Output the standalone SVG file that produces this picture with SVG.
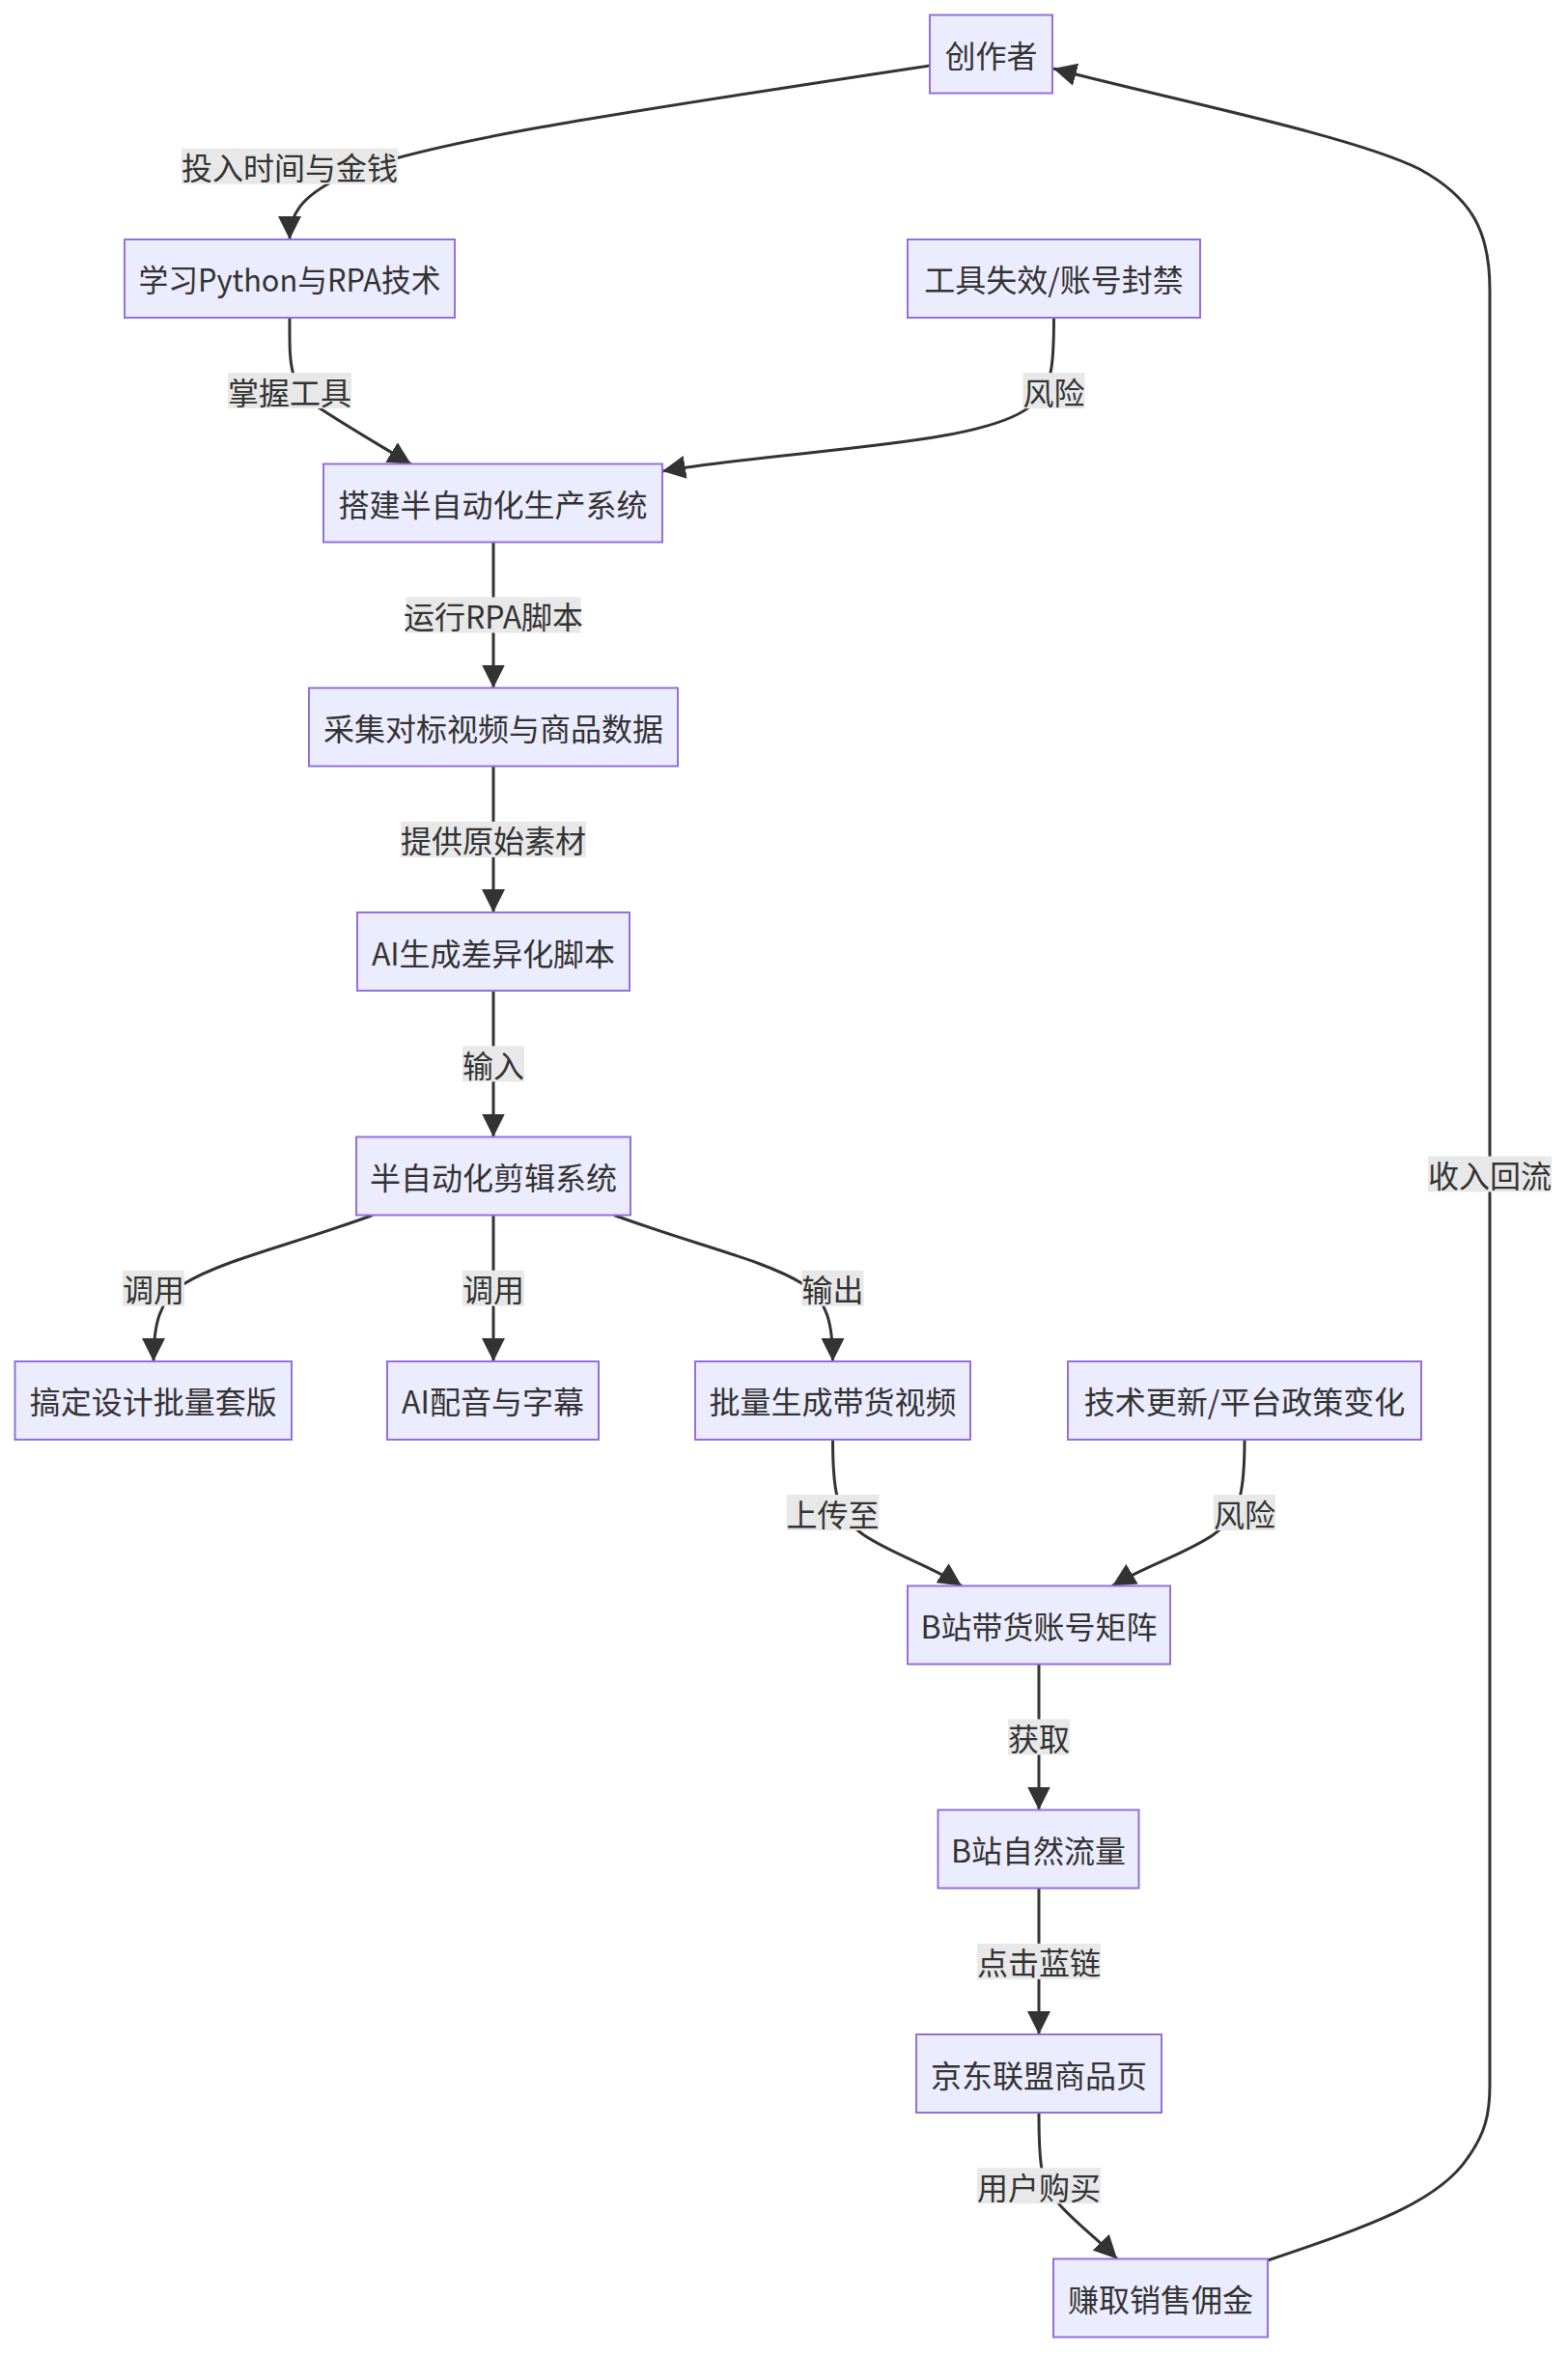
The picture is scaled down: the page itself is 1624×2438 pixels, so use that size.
<svg xmlns="http://www.w3.org/2000/svg" width="1624" height="2438" viewBox="0 0 1624 2438">
<style>
  .node rect { fill: #ECECFF; stroke: #9370DB; stroke-width: 2; }
  .node text { fill: #333333; font-family: "Noto Sans CJK SC", "Noto Sans", sans-serif; font-size: 32px; text-anchor: middle; dominant-baseline: central; }
  .edges path { fill: none; stroke: #333333; stroke-width: 3; marker-end: url(#arrow); }
  .elabel rect { fill: #e8e8e8; stroke: none; }
  .elabel text { fill: #333333; font-family: "Noto Sans CJK SC", "Noto Sans", sans-serif; font-size: 32px; text-anchor: middle; dominant-baseline: central; }
</style>
<defs>
  <marker id="arrow" viewBox="0 0 24 24" refX="24" refY="12" markerWidth="24" markerHeight="24" markerUnits="userSpaceOnUse" orient="auto">
    <path d="M0,0 L24,12 L0,24 z" fill="#333333"/>
  </marker>
</defs>
<rect x="0" y="0" width="1624" height="2438" fill="#ffffff"/>

<g id="connectors" class="edges">
  <path id="e1" d="M963,68 C620,120 420,150 350,185 C312,204 300,222 300,248"/>
  <path id="e2" d="M300,329 C300,375 298,400 330,422 C360,442 395,462 426,481"/>
  <path id="e3" d="M1091.5,329 C1091.5,380 1090,400 1068,420 C1020,462 820,465 686,488"/>
  <path id="e4" d="M511,561.5 L511,712.5"/>
  <path id="e5" d="M511,794 L511,945"/>
  <path id="e6" d="M511,1026 L511,1177.5"/>
  <path id="e7" d="M386,1258.5 C300,1290 230,1305 190,1330 C165,1346 159,1372 159,1410"/>
  <path id="e8" d="M511,1258.5 L511,1410"/>
  <path id="e9" d="M636,1258.5 C722,1290 792,1305 832,1330 C857,1346 862.5,1372 862.5,1410"/>
  <path id="e10" d="M862.5,1491 C862.5,1545 866,1570 895,1590 C925,1610 965,1622 996,1642.5"/>
  <path id="e11" d="M1289,1491 C1289,1545 1285,1570 1256,1590 C1226,1610 1186,1622 1152,1642.5"/>
  <path id="e12" d="M1076,1723.5 L1076,1874.5"/>
  <path id="e13" d="M1076,1956 L1076,2107"/>
  <path id="e14" d="M1076,2189 C1076,2245 1078,2262 1098,2284 C1115,2303 1138,2320 1157,2339.5"/>
  <path id="e15" d="M1313,2341 C1420,2305 1490,2280 1520,2235 C1538,2210 1543,2190 1543,2160 L1543,300 C1543,240 1525,205 1470,175 C1400,140 1200,100 1091,71"/>
</g>

<g id="edge-labels">
  <g class="elabel"><rect x="188" y="153.7" width="224" height="37"/><text x="300" y="172.2">投入时间与金钱</text></g>
  <g class="elabel"><rect x="236" y="386.1" width="128" height="37"/><text x="300" y="404.6">掌握工具</text></g>
  <g class="elabel"><rect x="1059.5" y="386.1" width="64" height="37"/><text x="1091.5" y="404.6">风险</text></g>
  <g class="elabel"><rect x="420.5" y="618.5" width="181" height="37"/><text x="511" y="637">运行RPA脚本</text></g>
  <g class="elabel"><rect x="415" y="850.9" width="192" height="37"/><text x="511" y="869.4">提供原始素材</text></g>
  <g class="elabel"><rect x="479" y="1083.3" width="64" height="37"/><text x="511" y="1101.8">输入</text></g>
  <g class="elabel"><rect x="127" y="1315.7" width="64" height="37"/><text x="159" y="1334.2">调用</text></g>
  <g class="elabel"><rect x="479" y="1315.7" width="64" height="37"/><text x="511" y="1334.2">调用</text></g>
  <g class="elabel"><rect x="830.5" y="1315.7" width="64" height="37"/><text x="862.5" y="1334.2">输出</text></g>
  <g class="elabel"><rect x="814.5" y="1548.1" width="96" height="37"/><text x="862.5" y="1566.6">上传至</text></g>
  <g class="elabel"><rect x="1257" y="1548.1" width="64" height="37"/><text x="1289" y="1566.6">风险</text></g>
  <g class="elabel"><rect x="1044" y="1780.5" width="64" height="37"/><text x="1076" y="1799">获取</text></g>
  <g class="elabel"><rect x="1012" y="2012.9" width="128" height="37"/><text x="1076" y="2031.4">点击蓝链</text></g>
  <g class="elabel"><rect x="1012" y="2245.3" width="128" height="37"/><text x="1076" y="2263.8">用户购买</text></g>
  <g class="elabel"><rect x="1479" y="1197.5" width="128" height="37"/><text x="1543" y="1216">收入回流</text></g>
</g>

<g id="n-creator" class="node"><rect x="963" y="15.5" width="127" height="81"/><text x="1026.5" y="56">创作者</text></g>
<g id="n-learn" class="node"><rect x="129" y="248" width="342" height="81"/><text x="300" y="288.4" textLength="313" lengthAdjust="spacingAndGlyphs">学习Python与RPA技术</text></g>
<g id="n-risk1" class="node"><rect x="940" y="248" width="303" height="81"/><text x="1091.5" y="288.4">工具失效/账号封禁</text></g>
<g id="n-build" class="node"><rect x="335" y="480.5" width="351" height="81"/><text x="510.5" y="520.8" textLength="320" lengthAdjust="spacing">搭建半自动化生产系统</text></g>
<g id="n-collect" class="node"><rect x="320" y="712.5" width="382" height="81"/><text x="511" y="753.2" textLength="352" lengthAdjust="spacing">采集对标视频与商品数据</text></g>
<g id="n-aiscript" class="node"><rect x="370" y="945" width="282" height="81"/><text x="511" y="985.6" textLength="252" lengthAdjust="spacing">AI生成差异化脚本</text></g>
<g id="n-edit" class="node"><rect x="369" y="1177.5" width="284" height="81"/><text x="511" y="1218">半自动化剪辑系统</text></g>
<g id="n-design" class="node"><rect x="15.5" y="1410" width="286.5" height="81"/><text x="158.75" y="1450.4">搞定设计批量套版</text></g>
<g id="n-voice" class="node"><rect x="401" y="1410" width="219" height="81"/><text x="510.5" y="1450.4">AI配音与字幕</text></g>
<g id="n-batch" class="node"><rect x="720" y="1410" width="285" height="81"/><text x="862.5" y="1450.4">批量生成带货视频</text></g>
<g id="n-risk2" class="node"><rect x="1106" y="1410" width="366" height="81"/><text x="1289" y="1450.4">技术更新/平台政策变化</text></g>
<g id="n-matrix" class="node"><rect x="940" y="1642.5" width="272" height="81"/><text x="1076" y="1682.8">B站带货账号矩阵</text></g>
<g id="n-traffic" class="node"><rect x="971.5" y="1874.5" width="208" height="81"/><text x="1075.5" y="1915.2">B站自然流量</text></g>
<g id="n-jd" class="node"><rect x="949" y="2107" width="254" height="81"/><text x="1076" y="2147.6">京东联盟商品页</text></g>
<g id="n-earn" class="node"><rect x="1091" y="2339.5" width="222" height="81"/><text x="1202" y="2380">赚取销售佣金</text></g>
</svg>
